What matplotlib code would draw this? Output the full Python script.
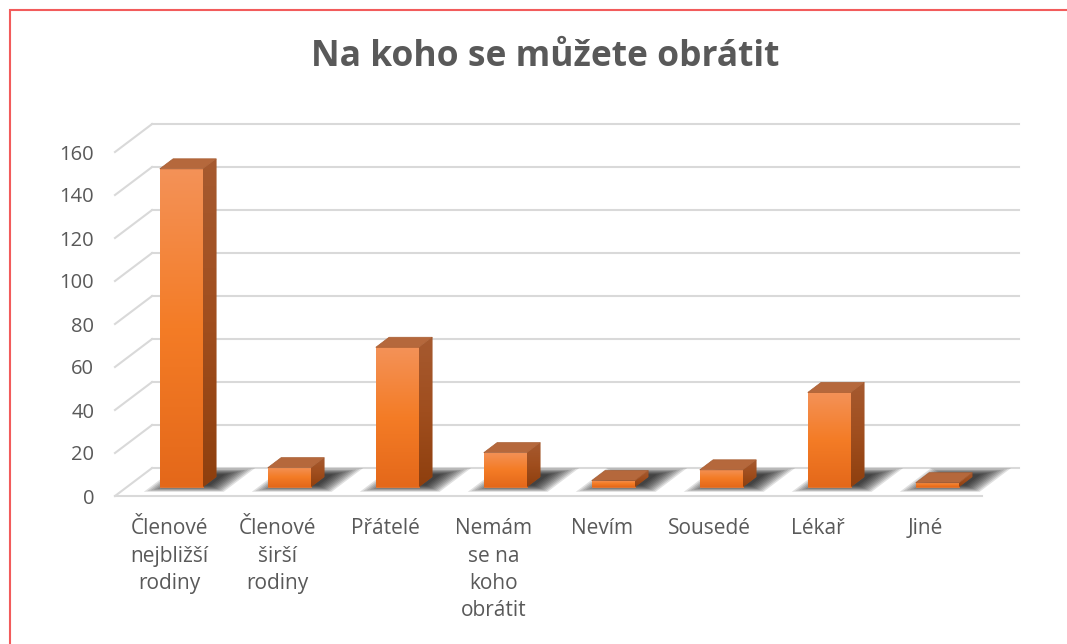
import numpy as np
import matplotlib
matplotlib.use('Agg')
import matplotlib.pyplot as plt
from matplotlib.patches import Polygon, Rectangle

plt.rcParams['font.family'] = ['Open Sans', 'DejaVu Sans']

categories = ['Členové\nnejbližší\nrodiny', 'Členové\nširší\nrodiny', 'Přátelé',
              'Nemám\nse na\nkoho\nobrátit', 'Nevím', 'Sousedé', 'Lékař', 'Jiné']
values = [148, 9, 65, 16, 3, 8, 44, 2]
yticks = [0, 20, 40, 60, 80, 100, 120, 140, 160]

text_color = '#595959'
grid_color = '#D9D9D9'

# pseudo 3D geometry (data units)
wall_dx, wall_dy = 0.343, 13.0      # depth of the whole plot box
bar_w = 0.40
bar_front, bar_back = 0.32, 0.68    # bar position inside the depth
x_left, x_right = -0.505, 7.523

fig = plt.figure(figsize=(10.67, 6.44), dpi=100)
ax = fig.add_axes([115 / 1067, 148 / 644, 867 / 1067, 344 / 644])
ax.set_xlim(x_left, x_right)
ax.set_ylim(0, 160)

# back wall and side wall gridlines
for t in yticks:
    ax.plot([x_left + wall_dx, x_right + wall_dx], [t + wall_dy, t + wall_dy],
            color=grid_color, lw=1.5, clip_on=False, zorder=1)
    ax.plot([x_left, x_left + wall_dx], [t, t + wall_dy],
            color=grid_color, lw=1.5, clip_on=False, zorder=1)
ax.plot([x_left, x_right], [0, 0], color=grid_color, lw=1.5, clip_on=False, zorder=1)

x = np.arange(len(values))
bx = x + bar_front * wall_dx
by = bar_front * wall_dy
ddx = (bar_back - bar_front) * wall_dx
ddy = (bar_back - bar_front) * wall_dy

# soft shadows on the floor (stacked translucent parallelograms)
n_layers = 10
for xi in x:
    cx = xi + 0.08
    for k in range(n_layers):
        w = 0.74 - k * 0.045
        f0 = 0.15 + k * 0.025
        f1 = 1.0 - k * 0.025
        pts = [(cx - w / 2 + f0 * wall_dx, f0 * wall_dy),
               (cx + w / 2 + f0 * wall_dx, f0 * wall_dy),
               (cx + w / 2 + f1 * wall_dx, f1 * wall_dy),
               (cx - w / 2 + f1 * wall_dx, f1 * wall_dy)]
        ax.add_patch(Polygon(pts, closed=True, facecolor='black', edgecolor='none',
                             alpha=0.12, clip_on=False, zorder=2))

grad = np.linspace(0, 1, 256).reshape(-1, 1)
front_cmap = matplotlib.colors.LinearSegmentedColormap.from_list(
    'front', ['#E4681A', '#F47C26', '#F39258'])
side_cmap = matplotlib.colors.LinearSegmentedColormap.from_list(
    'side', ['#8E3F0E', '#A04E1E', '#A65A30'])

bars = ax.bar(bx, values, width=bar_w, bottom=by, color='#F47C26',
              edgecolor='#E87630', lw=0.6, zorder=4)
for b, xi, v in zip(bars, bx, values):
    xl, xr = xi - bar_w / 2, xi + bar_w / 2
    im = ax.imshow(grad, cmap=front_cmap, origin='lower', aspect='auto',
                   extent=(xl, xr, by, by + v), zorder=4.5)
    im.set_clip_path(b)
    side = Polygon([(xr, by), (xr + ddx, by + ddy), (xr + ddx, by + v + ddy), (xr, by + v)],
                   closed=True, facecolor='#9C4C1C', edgecolor='none', zorder=4)
    ax.add_patch(side)
    im2 = ax.imshow(grad, cmap=side_cmap, origin='lower', aspect='auto',
                    extent=(xr, xr + ddx, by, by + v + ddy), zorder=4.5)
    im2.set_clip_path(side)
    top = Polygon([(xl, by + v), (xl + ddx, by + v + ddy), (xr + ddx, by + v + ddy), (xr, by + v)],
                  closed=True, facecolor='#B5683C', edgecolor='#A85E33', lw=0.5, zorder=5)
    ax.add_patch(top)

ax.set_xlim(x_left, x_right)
ax.set_ylim(0, 160)

ax.set_yticks(yticks)
ax.set_yticklabels([str(t) for t in yticks])
ax.set_xticks(x)
ax.set_xticklabels(categories, linespacing=1.4)
ax.tick_params(axis='y', length=0, pad=15, labelsize=14.5, labelcolor=text_color)
ax.tick_params(axis='x', length=0, pad=16, labelsize=15, labelcolor=text_color)
for s in ax.spines.values():
    s.set_visible(False)
ax.patch.set_alpha(0)

fig.text(545 / 1067, 1 - 57 / 644, 'Na koho se můžete obrátit', ha='center', va='center',
         fontsize=25.5, fontweight='bold', color=text_color)

fig.add_artist(Rectangle((10 / 1067, -0.1), 1.2, 1 - 10 / 644 + 0.1, transform=fig.transFigure,
                         facecolor='none', edgecolor='#F25C5C', lw=1.5))

fig.savefig('out.png', dpi=100)
